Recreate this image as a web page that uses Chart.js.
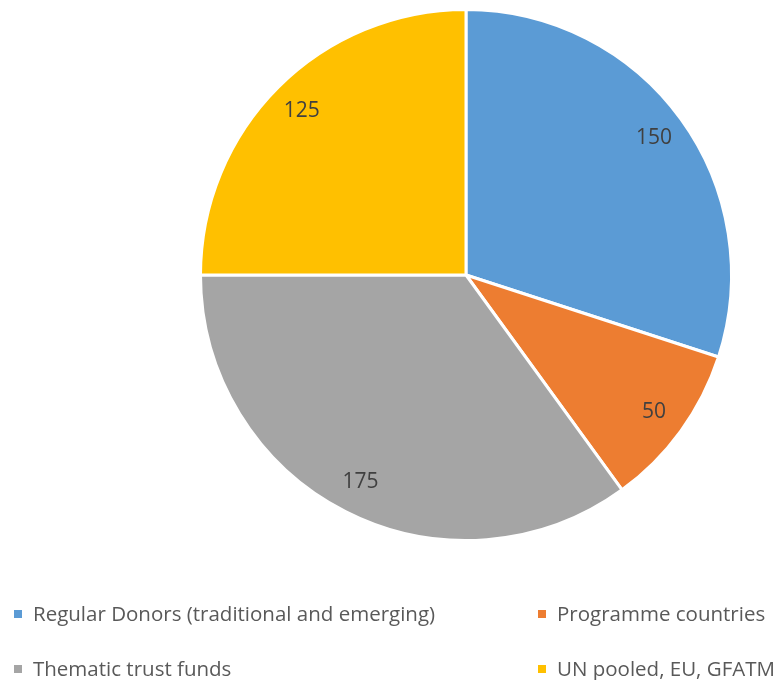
<!DOCTYPE html>
<html>
<head>
<meta charset="utf-8">
<script src="https://cdn.jsdelivr.net/npm/chart.js@4/dist/chart.umd.min.js"></script>
<style>
  body { margin: 0; background: #fff; width: 782px; height: 680px; overflow: hidden; font-family: "Open Sans", sans-serif; }
  #wrap { position: absolute; left: 0; top: 0; width: 782px; height: 550px; }
  #legend { position: absolute; left: 0; top: 0; width: 782px; height: 680px; pointer-events: none; }
  .item { position: absolute; font-size: 20.5px; color: #595959; white-space: nowrap; line-height: 22px; }
  .item span { display: inline-block; width: 8px; height: 8px; margin-right: 11px; vertical-align: 3px; }
</style>
</head>
<body>
<div id="wrap"><canvas id="pie"></canvas></div>
<div id="legend"></div>
<script>
// --- Daten ---
const categories = ["Regular Donors (traditional and emerging)", "Programme countries", "Thematic trust funds", "UN pooled, EU, GFATM"];
const values = [150, 50, 175, 125];
const colors = ["#5b9bd5", "#ed7d31", "#a5a5a5", "#ffc000"];

// Legende: zwei Spalten, zwei Zeilen
const legendPos = [[14, 602], [538, 602], [14, 657], [538, 657]];

const legendDiv = document.getElementById("legend");
categories.forEach((name, i) => {
    const el = document.createElement("div");
    el.className = "item";
    el.style.left = legendPos[i][0] + "px";
    el.style.top = legendPos[i][1] + "px";
    el.innerHTML = `<span style="background:${colors[i]}"></span>${name}`;
    legendDiv.appendChild(el);
});

// Beschriftung im Segment
const sliceLabels = {
    id: "sliceLabels",
    afterDatasetsDraw(chart) {
        const ctx = chart.ctx;
        const meta = chart.getDatasetMeta(0);
        ctx.save();
        ctx.font = '21px "Open Sans", sans-serif';
        ctx.fillStyle = "#404040";
        ctx.textAlign = "center";
        ctx.textBaseline = "middle";
        meta.data.forEach((arc, i) => {
            const p = arc.getProps(["x", "y", "startAngle", "endAngle", "outerRadius"], true);
            const mid = (p.startAngle + p.endAngle) / 2;
            const r = p.outerRadius * 0.875;
            ctx.fillText(String(values[i]), p.x + Math.cos(mid) * r, p.y + Math.sin(mid) * r);
        });
        ctx.restore();
    }
};

new Chart(document.getElementById("pie"), {
    type: "pie",
    data: {
        labels: categories,
        datasets: [{
            data: values,
            backgroundColor: colors,
            borderColor: "#ffffff",
            borderWidth: 3
        }]
    },
    options: {
        responsive: true,
        maintainAspectRatio: false,
        animation: false,
        layout: { padding: { left: 150, right: 0, top: 8, bottom: 8 } },
        plugins: {
            legend: { display: false },
            tooltip: { enabled: false }
        }
    },
    plugins: [sliceLabels]
});
</script>
</body>
</html>
